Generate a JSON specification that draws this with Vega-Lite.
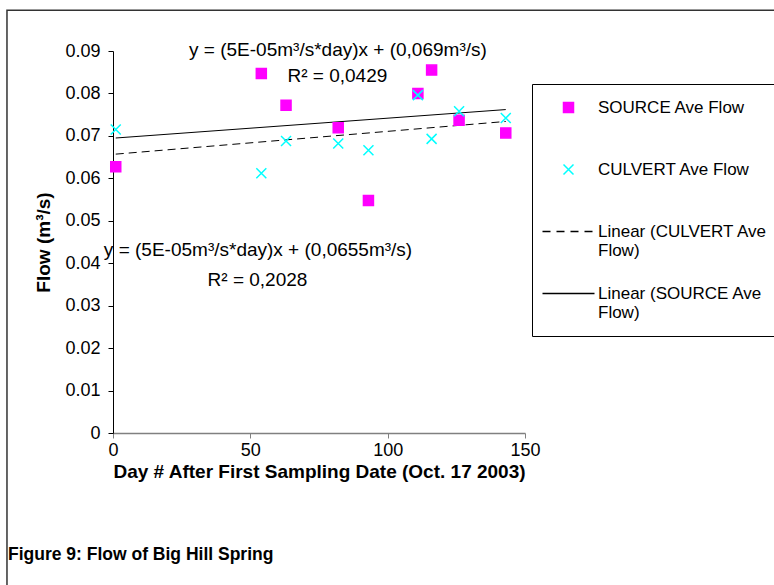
{
  "$schema": "https://vega.github.io/schema/vega-lite/v6.json",
  "width": 412,
  "height": 382,
  "autosize": {"type": "none"},
  "padding": {"left": 113, "top": 51, "right": 249, "bottom": 152},
  "background": "white",
  "config": {"view": {"stroke": null}, "font": "Liberation Sans"},
  "title": {
    "text": "Figure 9: Flow of Big Hill Spring",
    "orient": "bottom",
    "anchor": "start",
    "frame": "group",
    "dx": -105,
    "offset": -58,
    "font": "Liberation Sans",
    "fontSize": 17.5,
    "fontWeight": "bold",
    "color": "#000000"
  },
  "datasets": {
    "flow": [
      {"day": 1, "series": "SOURCE Ave Flow", "flow": 0.0627},
      {"day": 54, "series": "SOURCE Ave Flow", "flow": 0.0847},
      {"day": 63, "series": "SOURCE Ave Flow", "flow": 0.0772},
      {"day": 82, "series": "SOURCE Ave Flow", "flow": 0.0719},
      {"day": 93, "series": "SOURCE Ave Flow", "flow": 0.0548},
      {"day": 111, "series": "SOURCE Ave Flow", "flow": 0.0800},
      {"day": 116, "series": "SOURCE Ave Flow", "flow": 0.0855},
      {"day": 126, "series": "SOURCE Ave Flow", "flow": 0.0737},
      {"day": 143, "series": "SOURCE Ave Flow", "flow": 0.0707},
      {"day": 1, "series": "CULVERT Ave Flow", "flow": 0.0715},
      {"day": 54, "series": "CULVERT Ave Flow", "flow": 0.0612},
      {"day": 63, "series": "CULVERT Ave Flow", "flow": 0.0688},
      {"day": 82, "series": "CULVERT Ave Flow", "flow": 0.0682},
      {"day": 93, "series": "CULVERT Ave Flow", "flow": 0.0666},
      {"day": 111, "series": "CULVERT Ave Flow", "flow": 0.0796},
      {"day": 116, "series": "CULVERT Ave Flow", "flow": 0.0693},
      {"day": 126, "series": "CULVERT Ave Flow", "flow": 0.0758},
      {"day": 143, "series": "CULVERT Ave Flow", "flow": 0.0742}
    ],
    "trend": [
      {"fit": "CULVERT", "day": 1, "flow": 0.0657},
      {"fit": "CULVERT", "day": 143, "flow": 0.0734},
      {"fit": "SOURCE", "day": 1, "flow": 0.0695},
      {"fit": "SOURCE", "day": 143, "flow": 0.0762}
    ],
    "notes": [
      {"day": 81.9, "flow": 0.0903, "label": "y = (5E-05m³/s*day)x + (0,069m³/s)"},
      {"day": 81.7, "flow": 0.0840, "label": "R² = 0,0429"},
      {"day": 52.8, "flow": 0.0431, "label": "y = (5E-05m³/s*day)x + (0,0655m³/s)"},
      {"day": 52.6, "flow": 0.0361, "label": "R² = 0,2028"}
    ]
  },
  "layer": [
    {
      "data": {"values": [{}]},
      "mark": {"type": "rect", "fill": "transparent", "stroke": "#333333", "strokeWidth": 1.5, "clip": false},
      "encoding": {
        "x": {"datum": -38.6, "type": "quantitative", "scale": {"domain": [0, 150]}},
        "x2": {"datum": 250},
        "y": {"datum": 0.0996, "type": "quantitative", "scale": {"domain": [0, 0.09]}},
        "y2": {"datum": -0.04}
      }
    },
    {
      "data": {"name": "trend"},
      "transform": [{"filter": "datum.fit == 'CULVERT'"}],
      "mark": {"type": "line", "color": "#000000", "strokeWidth": 1, "strokeDash": [8, 5]},
      "encoding": {
        "x": {"field": "day", "type": "quantitative"},
        "y": {"field": "flow", "type": "quantitative"}
      }
    },
    {
      "data": {"name": "trend"},
      "transform": [{"filter": "datum.fit == 'SOURCE'"}],
      "mark": {"type": "line", "color": "#000000", "strokeWidth": 1},
      "encoding": {
        "x": {"field": "day", "type": "quantitative"},
        "y": {"field": "flow", "type": "quantitative"}
      }
    },
    {
      "data": {"name": "flow"},
      "mark": {"type": "point", "size": 100, "strokeWidth": 1.5, "opacity": 1},
      "encoding": {
        "x": {
          "field": "day",
          "type": "quantitative",
          "scale": {"domain": [0, 150], "nice": false, "zero": false},
          "axis": {
            "title": "Day # After First Sampling Date (Oct. 17 2003)",
            "values": [0, 50, 100, 150],
            "grid": false,
            "domainColor": "#808080",
            "domainWidth": 1.5,
            "tickColor": "#808080",
            "tickSize": 5,
            "labelFont": "Liberation Sans",
            "labelFontSize": 18,
            "labelColor": "#000000",
            "labelPadding": 3,
            "labelFlush": false,
            "titleFont": "Liberation Sans",
            "titleFontSize": 19,
            "titleFontWeight": "bold",
            "titleColor": "#000000",
            "titlePadding": 3
          }
        },
        "y": {
          "field": "flow",
          "type": "quantitative",
          "scale": {"domain": [0, 0.09], "nice": false},
          "axis": {
            "title": "Flow (m³/s)",
            "values": [0, 0.01, 0.02, 0.03, 0.04, 0.05, 0.06, 0.07, 0.08, 0.09],
            "format": "~g",
            "grid": false,
            "domainColor": "#000000",
            "tickColor": "#000000",
            "tickSize": 5,
            "labelFont": "Liberation Sans",
            "labelFontSize": 18,
            "labelColor": "#000000",
            "labelPadding": 8,
            "labelFlush": false,
            "titleFont": "Liberation Sans",
            "titleFontSize": 19,
            "titleFontWeight": "bold",
            "titleColor": "#000000",
            "titlePadding": 11
          }
        },
        "shape": {
          "field": "series",
          "type": "nominal",
          "scale": {
            "domain": ["SOURCE Ave Flow", "CULVERT Ave Flow", "Linear (CULVERT Ave Flow)", "Linear (SOURCE Ave Flow)"],
            "range": ["square", "M-1,-1L1,1M-1,1L1,-1", "M-5.2,0H-3.6M-2.4,0H-0.8M0.4,0H2M3.2,0H4.8", "M-5.2,0H5.2"]
          },
          "legend": {
            "title": null,
            "orient": "none",
            "legendX": 419,
            "legendY": 33,
            "direction": "vertical",
            "columns": 1,
            "strokeColor": "#000000",
            "fillColor": "#ffffff",
            "padding": 15,
            "labelFont": "Liberation Sans",
            "labelFontSize": 17,
            "labelColor": "#000000",
            "labelLimit": 400,
            "labelBaseline": "middle",
            "symbolSize": 100,
            "symbolStrokeWidth": 1.5,
            "symbolOffset": 13,
            "labelOffset": 21,
            "rowPadding": 25,
            "gridAlign": "all",
            "labelExpr": "datum.label == 'Linear (CULVERT Ave Flow)' ? ['Linear (CULVERT Ave', 'Flow)'] : datum.label == 'Linear (SOURCE Ave Flow)' ? ['Linear (SOURCE Ave', 'Flow)'] : datum.label"
          }
        },
        "fill": {
          "field": "series",
          "type": "nominal",
          "scale": {
            "domain": ["SOURCE Ave Flow", "CULVERT Ave Flow", "Linear (CULVERT Ave Flow)", "Linear (SOURCE Ave Flow)"],
            "range": ["#FF00FF", "transparent", "transparent", "transparent"]
          }
        },
        "stroke": {
          "field": "series",
          "type": "nominal",
          "scale": {
            "domain": ["SOURCE Ave Flow", "CULVERT Ave Flow", "Linear (CULVERT Ave Flow)", "Linear (SOURCE Ave Flow)"],
            "range": ["#FF00FF", "#00FFFF", "#000000", "#000000"]
          }
        }
      }
    },
    {
      "data": {"name": "notes"},
      "mark": {"type": "text", "font": "Liberation Sans", "fontSize": 19, "color": "#000000", "align": "center", "baseline": "middle"},
      "encoding": {
        "x": {"field": "day", "type": "quantitative"},
        "y": {"field": "flow", "type": "quantitative"},
        "text": {"field": "label"}
      }
    }
  ]
}
